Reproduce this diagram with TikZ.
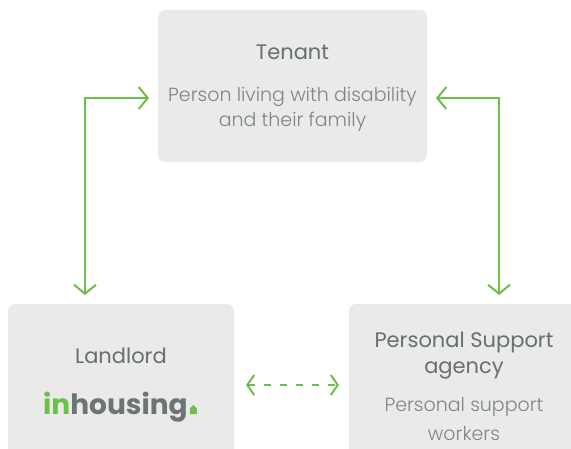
\documentclass[tikz,border=0pt]{standalone}
\usepackage{fontspec}
\setmainfont{Poppins}
\newfontfamily\lightfont{Poppins Light}
\usetikzlibrary{arrows.meta}
\definecolor{boxfill}{HTML}{E9EAE9}
\definecolor{titlegray}{HTML}{66706F}
\definecolor{descgray}{HTML}{7D8786}
\definecolor{logogray}{HTML}{6B7574}
\definecolor{arrowgreen}{HTML}{6CC04A}
\begin{document}
\begin{tikzpicture}[x=1pt,y=-1pt,
  card/.style={fill=boxfill, rounded corners=7pt},
  title/.style={text=titlegray, font=\fontsize{21}{24}\selectfont, inner sep=0pt, anchor=center},
  desc/.style={text=descgray, font=\lightfont\fontsize{19}{22}\selectfont, inner sep=0pt, anchor=center},
  link/.style={draw=arrowgreen, line width=2pt, {Straight Barb[length=9pt,width=22pt,line width=2pt]}-{Straight Barb[length=9pt,width=22pt,line width=2pt]}},
  dashlink/.style={draw=arrowgreen, line width=2pt, dash pattern=on 7pt off 9pt, {Straight Barb[length=7pt,width=20pt,line width=2pt]}-{Straight Barb[length=7pt,width=20pt,line width=2pt]}}
]
\useasboundingbox (0,0) rectangle (571,448);
\clip (0,0) rectangle (571,448);
% boxes
\path[card] (158,10) rectangle (427,162);
\path[card] (8,304) rectangle (234,470);
\path[card] (349,304) rectangle (580,470);
% texts
\node[title] (tenant) at (292.5,52) {Tenant};
\node[desc] (tdesc1) at (292.5,97) {Person living with disability};
\node[desc] (tdesc2) at (292.5,122) {and their family};
\node[title] (landlord) at (121,356) {Landlord};
\node[inner sep=0pt, anchor=base west, font=\bfseries\fontsize{28}{30}\selectfont] (logo) at (43,414) {\textcolor{arrowgreen}{in}\textcolor{logogray}{housing}};
\fill[arrowgreen] ([xshift=2pt]logo.base east) -- ++(7,0) -- ++(0,-5.5) -- ++(-3.5,-3.5) -- ++(-3.5,3.5) -- cycle;
\node[title] (psa1) at (464,342) {Personal Support};
\node[title] (psa2) at (464,370) {agency};
\node[desc] (psw1) at (464,407) {Personal support};
\node[desc] (psw2) at (464,434) {workers};
% connectors
\coordinate (lcorner) at (85,98);
\coordinate (ldown) at (85,295);
\coordinate (ltip) at (149,98);
\coordinate (rcorner) at (499,98);
\coordinate (rdown) at (499,295);
\coordinate (rtip) at (436,98);
\draw[link] (ldown) -- (lcorner) -- (ltip);
\draw[link] (rdown) -- (rcorner) -- (rtip);
\coordinate (dl) at (246,385);
\coordinate (dr) at (339,385);
\draw[dashlink] (dl) -- (dr);
\end{tikzpicture}
\end{document}
